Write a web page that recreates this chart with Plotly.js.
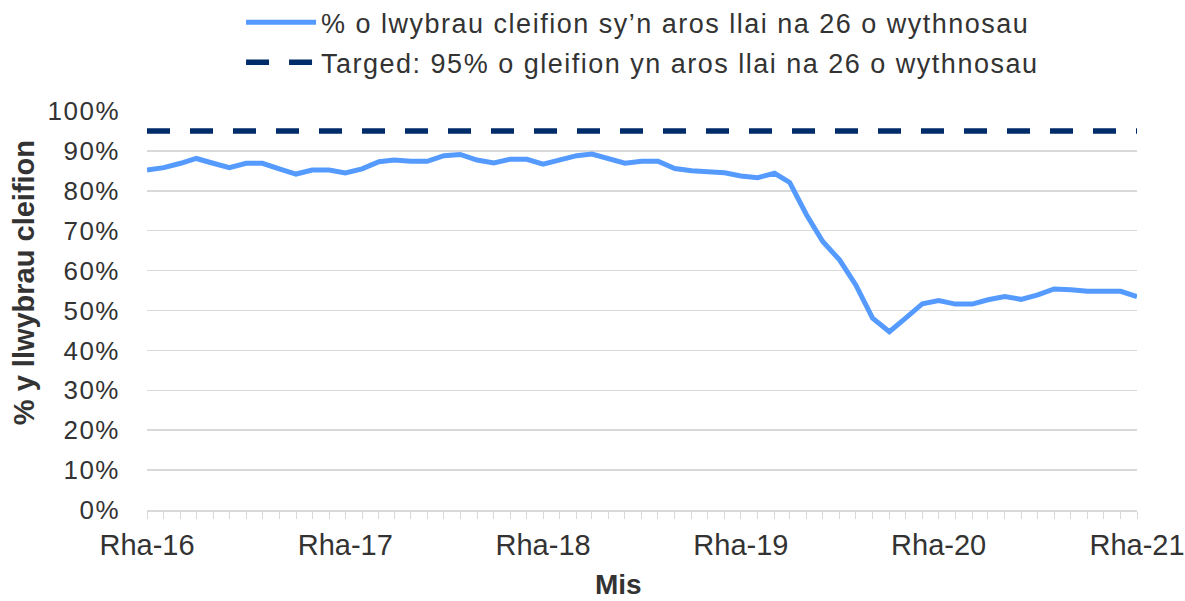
<!DOCTYPE html>
<html>
<head>
<meta charset="utf-8">
<script src="https://cdn.plot.ly/plotly-3.0.1.min.js"></script>
<style>
html,body{margin:0;padding:0;background:#fff;}
#chart{width:1185px;height:601px;}
#chart .legendtext{letter-spacing:1.5px;}
#chart .legend, #chart .legend *{clip-path:none !important;}
#chart .ytick text{letter-spacing:1.5px;}
</style>
</head>
<body>
<div id="chart"></div>
<script>
// Monthly series, Dec 2015 (Rha-16) to Dec 2020 (Rha-21)
const startYear = 2015, startMonth = 12;
const pctUnder26 = [
  85.2, 85.8, 86.9, 88.1, 86.9, 85.8, 86.9, 86.9, 85.5, 84.2,
  85.2, 85.2, 84.5, 85.5, 87.3, 87.7, 87.4, 87.4, 88.8, 89.1,
  87.7, 87.0, 87.9, 87.9, 86.7, 87.9, 88.8, 89.2, 88.1, 86.9,
  87.4, 87.4, 85.6, 85.0, 84.8, 84.5, 83.7, 83.3, 84.4, 82.1,
  74.0, 67.3, 62.7, 56.4, 48.1, 44.7, 48.1, 51.7, 52.5, 51.6,
  51.6, 52.7, 53.5, 52.8, 53.9, 55.4, 55.2, 54.8, 54.8, 54.8,
  53.5
];
const targetValue = 95;
const tickLabels = ["Rha-16", "Rha-17", "Rha-18", "Rha-19", "Rha-20", "Rha-21"];
const tickDates = ["2015-12-01", "2016-12-01", "2017-12-01", "2018-12-01", "2019-12-01", "2020-12-01"];
const seriesName = "% o lwybrau cleifion sy\u2019n aros llai na 26 o wythnosau";
const targetName = "Targed: 95% o gleifion yn aros llai na 26 o wythnosau";
const yTitle = "% y llwybrau cleifion";
const xTitle = "Mis";

const months = pctUnder26.map((_, i) => {
  const m0 = startMonth - 1 + i;
  const y = startYear + Math.floor(m0 / 12);
  const m = (m0 % 12) + 1;
  return y + "-" + String(m).padStart(2, "0") + "-01";
});
const values = pctUnder26.map(v => v / 100);
const target = months.map(() => targetValue / 100);

const font = "Liberation Sans, Arial, sans-serif";
const txt = "#333333";
const data = [
  {x: months, y: values, type: "scatter", mode: "lines", name: seriesName,
   legendgroup: "a", line: {color: "#559BFF", width: 5}},
  {x: months, y: target, type: "scatter", mode: "lines", name: targetName,
   legendgroup: "b", line: {color: "#002D6A", width: 5.5, dash: "23px,20px"}}
];
const layout = {
  width: 1185, height: 601,
  margin: {l: 147, r: 48, t: 111, b: 91, autoexpand: false},
  paper_bgcolor: "#fff", plot_bgcolor: "#fff",
  font: {family: font, size: 22, color: txt},
  showlegend: true,
  legend: {x: 0.095, xanchor: "left", y: 1.283, yanchor: "top",
           orientation: "v", itemwidth: 70, font: {size: 27, color: txt},
           traceorder: "grouped", tracegroupgap: 2, bgcolor: "rgba(0,0,0,0)"},
  xaxis: {
    type: "date", range: [months[0], months[months.length - 1]],
    tickvals: tickDates, ticktext: tickLabels,
    showgrid: false, showline: true, linecolor: "#d9d9d9", linewidth: 1.5,
    ticks: "outside", ticklen: 7, tickcolor: "#d9d9d9",
    minor: {ticks: "outside", dtick: "M1", tick0: "2015-12-01", ticklen: 7, tickcolor: "#d9d9d9", showgrid: false},
    tickfont: {size: 29, color: txt}, ticklabelstandoff: 2,
    zeroline: false, automargin: false
  },
  yaxis: {
    range: [0, 1], dtick: 0.1, tickformat: ".0%",
    showgrid: true, gridcolor: "#d9d9d9", gridwidth: 1.5,
    showline: false, zeroline: false, ticks: "",
    tickfont: {size: 26, color: txt}, ticklabelstandoff: 26, automargin: false
  },
  annotations: [
    {text: "<b>" + yTitle + "</b>", xref: "paper", yref: "paper", x: -0.124, y: 0.569,
     xanchor: "center", yanchor: "middle", textangle: -90, showarrow: false,
     font: {size: 29, color: txt}},
    {text: "<b>" + xTitle + "</b>", xref: "paper", yref: "paper", x: 0.476, y: (510 - 602) / 399,
     xanchor: "center", yanchor: "bottom", showarrow: false,
     font: {size: 28, color: txt}}
  ]
};
Plotly.newPlot("chart", data, layout, {displayModeBar: false, staticPlot: true});
</script>
</body>
</html>
